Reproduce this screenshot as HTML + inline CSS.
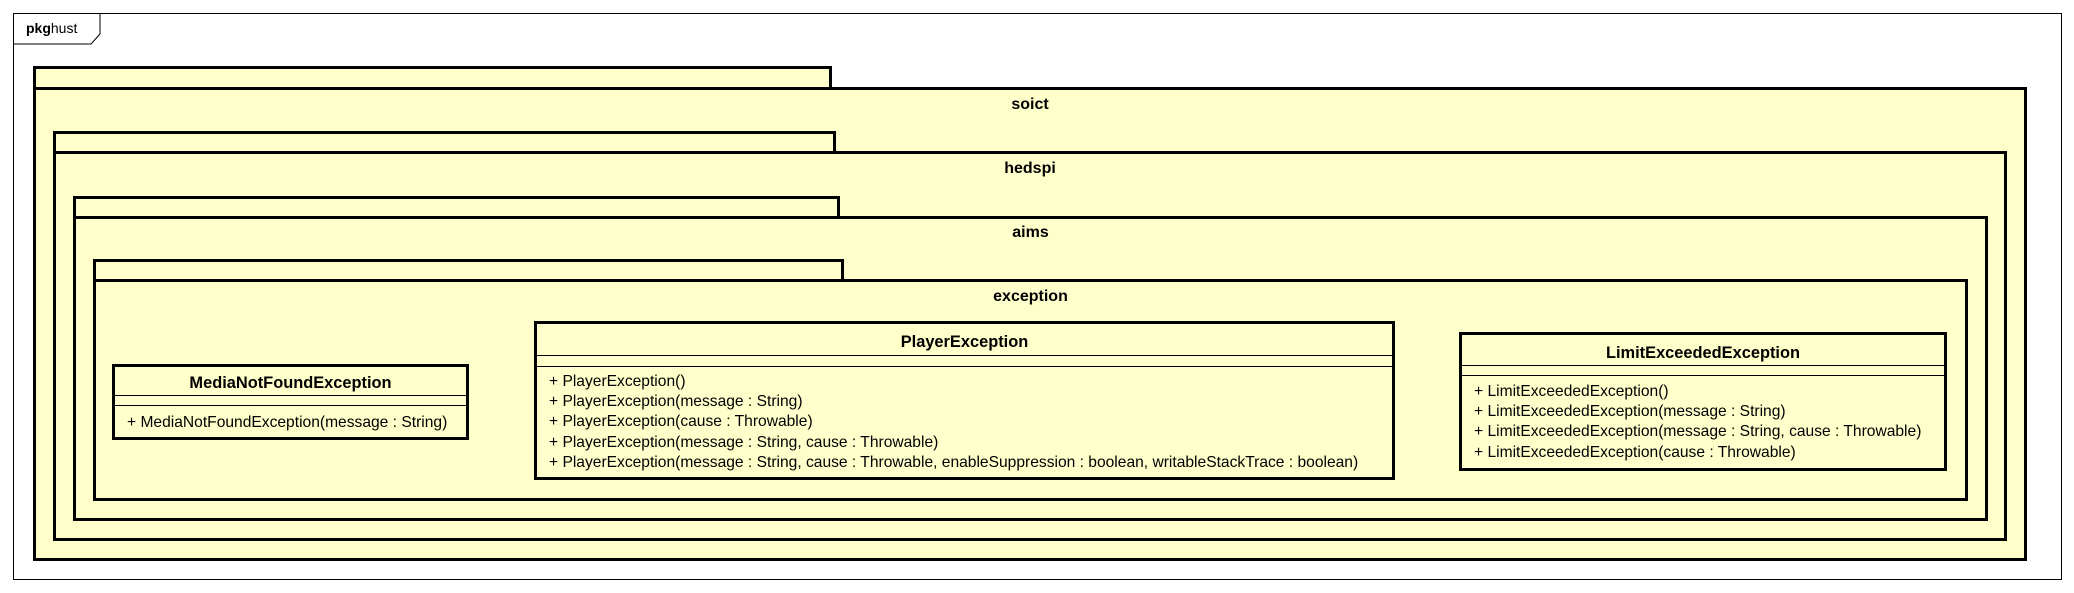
<!DOCTYPE html>
<html><head><meta charset="utf-8"><style>
*{margin:0;padding:0;box-sizing:border-box}
body{width:2074px;height:593px;background:#fff;position:relative;overflow:hidden;font-family:"Liberation Sans",Arial,sans-serif;color:#000}
.a{position:absolute}
.t{position:absolute;background:#ffffcc;border:3px solid #000}
.b{position:absolute;background:#ffffcc;border:3px solid #000}
.lbl{position:absolute;left:0;right:0;text-align:center;font-weight:bold;font-size:16px}
.c{position:absolute;background:#ffffcc;border:3px solid #000}
.c .h{text-align:center;font-weight:bold;font-size:16.4px}
.sep{position:absolute;left:0;right:0;border-top:1px solid #000}
.m{position:absolute;left:12px;font-size:15.6px;white-space:nowrap;line-height:20.2px}
</style></head><body>
<div class="a" style="left:13px;top:13px;width:2049px;height:567px;border:1px solid #000"></div>
<svg class="a" style="left:13px;top:13px" width="90" height="32"><polyline points="0,31 78,31 87,21 87,0" fill="none" stroke="#000" stroke-width="1"/></svg>
<div class="a" style="left:26px;top:20px;font-size:14px"><b>pkg</b>hust</div>

<div class="t" style="left:33px;top:66px;width:799px;height:24px"></div>
<div class="b" style="left:33px;top:87px;width:1994px;height:474px"></div>
<div class="lbl" style="left:33px;width:1994px;top:96px">soict</div>

<div class="t" style="left:53px;top:131px;width:783px;height:23px"></div>
<div class="b" style="left:53px;top:151px;width:1954px;height:390px"></div>
<div class="lbl" style="left:53px;width:1954px;top:160px">hedspi</div>

<div class="t" style="left:73px;top:196px;width:767px;height:23px"></div>
<div class="b" style="left:73px;top:216px;width:1915px;height:305px"></div>
<div class="lbl" style="left:73px;width:1915px;top:224px">aims</div>

<div class="t" style="left:93px;top:259px;width:751px;height:23px"></div>
<div class="b" style="left:93px;top:279px;width:1875px;height:222px"></div>
<div class="lbl" style="left:93px;width:1875px;top:288px">exception</div>

<div class="c" style="left:112px;top:364px;width:357px;height:76px">
<div class="h" style="margin-top:7px">MediaNotFoundException</div>
<div class="sep" style="top:28px"></div><div class="sep" style="top:38px"></div>
<div class="m" style="top:46px">+ MediaNotFoundException(message : String)</div>
</div>

<div class="c" style="left:534px;top:321px;width:861px;height:159px">
<div class="h" style="margin-top:9px">PlayerException</div>
<div class="sep" style="top:31px"></div><div class="sep" style="top:42px"></div>
<div class="m" style="top:48px">+ PlayerException()<br>+ PlayerException(message : String)<br>+ PlayerException(cause : Throwable)<br>+ PlayerException(message : String, cause : Throwable)<br>+ PlayerException(message : String, cause : Throwable, enableSuppression : boolean, writableStackTrace : boolean)</div>
</div>

<div class="c" style="left:1459px;top:332px;width:488px;height:139px">
<div class="h" style="margin-top:9px">LimitExceededException</div>
<div class="sep" style="top:30px"></div><div class="sep" style="top:40px"></div>
<div class="m" style="top:47px">+ LimitExceededException()<br>+ LimitExceededException(message : String)<br>+ LimitExceededException(message : String, cause : Throwable)<br>+ LimitExceededException(cause : Throwable)</div>
</div>
</body></html>
